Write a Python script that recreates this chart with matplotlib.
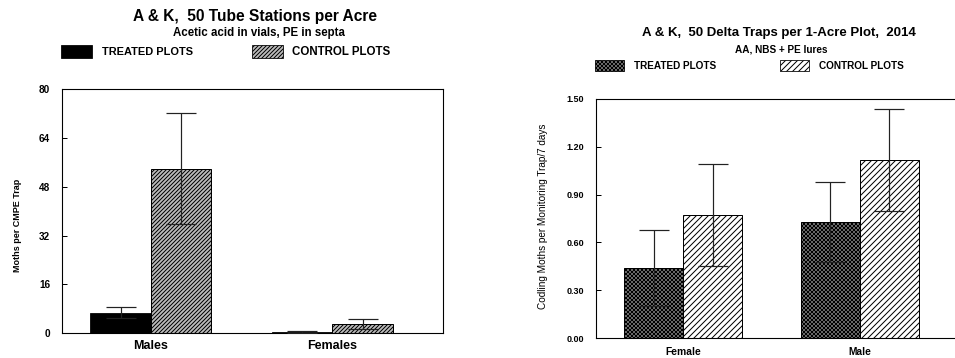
import numpy as np
import matplotlib
matplotlib.use("Agg")
import matplotlib.pyplot as plt
from matplotlib.patches import Rectangle

# figure is made at 72 dpi so one point == one pixel (keeps hatch spacing on whole pixels)
plt.rcParams['font.family'] = ['Liberation Sans', 'DejaVu Sans']
plt.rcParams['hatch.linewidth'] = 1.0

W, H = 955, 358

# left chart: tube stations
left_groups = ['Males', 'Females']
left_treated = [6.8, 0.3]
left_treated_lo = [5.0, 0.0]
left_treated_hi = [8.5, 0.6]
left_control = [53.9, 3.0]
left_control_lo = [35.8, 1.5]
left_control_hi = [72.1, 4.6]
left_yticks = [0, 16, 32, 48, 64, 80]

# right chart: delta traps 2014
right_groups = ['Female', 'Male']
right_treated = [0.44, 0.73]
right_treated_lo = [0.20, 0.48]
right_treated_hi = [0.68, 0.98]
right_control = [0.77, 1.12]
right_control_lo = [0.45, 0.80]
right_control_hi = [1.09, 1.44]
right_yticks = [0.0, 0.3, 0.6, 0.9, 1.2, 1.5]


def px_axes(fig, left, top, right, bottom):
    return fig.add_axes([left / W, (H - bottom) / H, (right - left) / W, (bottom - top) / H])


def fig_text(fig, x, y, s, **kw):
    fig.text(x / W, 1 - y / H, s, **kw)


def fig_box(fig, x0, y0, x1, y1, **kw):
    fig.patches.append(Rectangle((x0 / W, 1 - y1 / H), (x1 - x0) / W, (y1 - y0) / H,
                                 transform=fig.transFigure, figure=fig, **kw))


def draw_bars(ax, groups, tr, tr_lo, tr_hi, ct, ct_lo, ct_hi, w, tr_style, ct_style):
    x = np.arange(len(groups))
    ax.bar(x - w / 2, tr, w, **tr_style)
    ax.bar(x + w / 2, ct, w, **ct_style)
    for xs, v, lo, hi in [(x - w / 2, tr, tr_lo, tr_hi), (x + w / 2, ct, ct_lo, ct_hi)]:
        v = np.array(v)
        yerr = [v - np.array(lo), np.array(hi) - v]
        ax.errorbar(xs, v, yerr=yerr, fmt='none', ecolor='#222222', elinewidth=1.2,
                    capsize=15, capthick=1.2, zorder=5)
    ax.set_xticks(x)
    ax.set_xticklabels(groups)
    ax.tick_params(axis='x', length=0)
    ax.tick_params(axis='y', direction='in', length=5, width=1)
    for sp in ax.spines.values():
        sp.set_linewidth(1.1)


fig = plt.figure(figsize=(W / 72, H / 72), dpi=72)

# ---- left chart
ax1 = px_axes(fig, 62, 89, 443, 333.3)
w1 = 0.334
draw_bars(ax1, left_groups, left_treated, left_treated_lo, left_treated_hi,
          left_control, left_control_lo, left_control_hi, w1,
          dict(color='black', edgecolor='black', linewidth=0.8),
          dict(facecolor='#bdbdbd', edgecolor='black', hatch='//////', linewidth=1.0))
ax1.set_xlim(-0.49, 1.61)
ax1.set_ylim(0, 80)
ax1.set_yticks(left_yticks)
ax1.set_yticklabels([str(t) for t in left_yticks], fontsize=10, fontweight='bold')
for lab in ax1.get_xticklabels():
    lab.set_fontsize(12.5)
    lab.set_fontweight('bold')
ax1.tick_params(axis='x', pad=7)
ax1.tick_params(axis='y', pad=12)
ax1.set_ylabel('Moths per CMPE Trap', fontsize=9, fontweight='bold')
ax1.yaxis.set_label_coords(-0.106, 0.443)

fig_text(fig, 255, 17, 'A & K,  50 Tube Stations per Acre', fontsize=15.5, fontweight='bold',
         ha='center', va='center')
fig_text(fig, 259, 33, 'Acetic acid in vials, PE in septa', fontsize=11.5, fontweight='bold',
         ha='center', va='center')
fig_box(fig, 61, 45, 92, 58, facecolor='black', edgecolor='black', linewidth=0.8)
fig_text(fig, 102, 52, 'TREATED PLOTS', fontsize=11, fontweight='bold', va='center')
fig_box(fig, 252, 45, 283, 58, facecolor='#bdbdbd', edgecolor='black', hatch='//////', linewidth=0.8)
fig_text(fig, 292, 52, 'CONTROL PLOTS', fontsize=11.5, fontweight='bold', va='center')

# ---- right chart
ax2 = px_axes(fig, 596, 99, 962, 338)
w2 = 0.335
draw_bars(ax2, right_groups, right_treated, right_treated_lo, right_treated_hi,
          right_control, right_control_lo, right_control_hi, w2,
          dict(facecolor='#8a8a8a', edgecolor='black', hatch='xxxxxx', linewidth=1.0),
          dict(facecolor='white', edgecolor='black', hatch='////', linewidth=1.0))
ax2.spines['right'].set_visible(False)
ax2.set_xlim(-0.494, 1.58)
ax2.set_ylim(0, 1.5)
ax2.set_yticks(right_yticks)
ax2.set_yticklabels(['%.2f' % t for t in right_yticks], fontsize=9, fontweight='bold')
for lab in ax2.get_xticklabels():
    lab.set_fontsize(10.3)
    lab.set_fontweight('bold')
ax2.tick_params(axis='x', pad=9)
ax2.tick_params(axis='y', pad=12)
ax2.set_ylabel('Codling Moths per Monitoring Trap/7 days', fontsize=10)
ax2.yaxis.set_label_coords(-0.132, 0.51)

fig_text(fig, 779, 33, 'A & K,  50 Delta Traps per 1-Acre Plot,  2014', fontsize=13.3,
         fontweight='bold', ha='center', va='center')
fig_text(fig, 781, 49, 'AA, NBS + PE lures', fontsize=10, fontweight='bold',
         ha='center', va='center')
fig_box(fig, 595, 60, 624, 71, facecolor='#8a8a8a', edgecolor='black', hatch='xxxxxx', linewidth=0.8)
fig_text(fig, 634, 66, 'TREATED PLOTS', fontsize=10, fontweight='bold', va='center')
fig_box(fig, 780, 60, 809, 71, facecolor='white', edgecolor='black', hatch='////', linewidth=0.8)
fig_text(fig, 819, 66, 'CONTROL PLOTS', fontsize=10, fontweight='bold', va='center')

fig.savefig('out.png', dpi=72)
